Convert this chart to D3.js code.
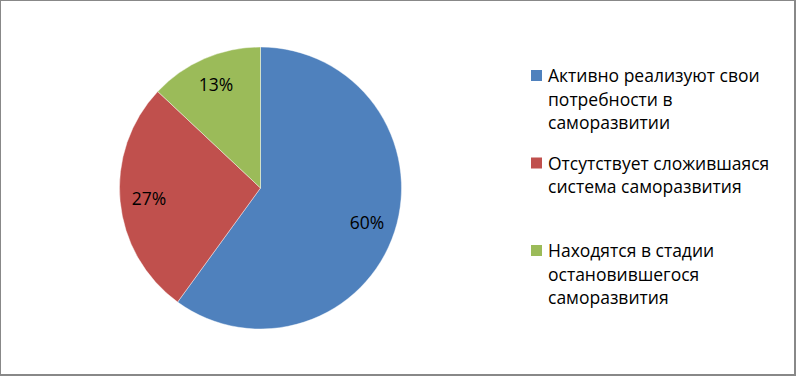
<!DOCTYPE html>
<html>
  <head>
    <meta charset="utf-8">
    <title>Pie</title>
    <script src="https://cdn.jsdelivr.net/npm/d3@7"></script>
    <style>
      body { margin: 0; background: #fff; }
      text { font-family: "Open Sans", "Liberation Sans", sans-serif; fill: #000; }
    </style>
  </head>
  <body>
    <svg width="796" height="376" id="mainsvg"></svg>
    <script>
    // данные
    const categories = [
      ['Активно реализуют свои', 'потребности в', 'саморазвитии'],
      ['Отсутствует сложившаяся', 'система саморазвития'],
      ['Находятся в стадии', 'остановившегося', 'саморазвития']
    ];
    const values = [60, 27, 13];
    const colors = ['#4F81BD', '#C0504D', '#9BBB59'];

    let svg = d3.select('#mainsvg');
    const width = +svg.attr('width'), height = +svg.attr('height');

    // рамка
    svg.append('rect')
      .attr('x', 0.5).attr('y', 0.5)
      .attr('width', width - 2).attr('height', height - 2)
      .attr('fill', '#fff')
      .attr('stroke', '#888').attr('stroke-width', 1);
    svg.append('line').attr('x1', width - 1).attr('x2', width - 1).attr('y1', 0).attr('y2', height)
      .attr('stroke', '#888').attr('stroke-width', 2);
    svg.append('line').attr('x1', 0).attr('x2', width).attr('y1', height - 1).attr('y2', height - 1)
      .attr('stroke', '#888').attr('stroke-width', 2);

    const cx = 260.5, cy = 188, r = 141;
    const pie = d3.pie().sort(null).value(d => d);
    const arcs = pie(values);
    const arc = d3.arc().innerRadius(0).outerRadius(r);
    const labelArc = d3.arc().innerRadius(112).outerRadius(112);

    const g = svg.append('g').attr('transform', `translate(${cx},${cy})`);
    g.selectAll('path').data(arcs).join('path')
      .attr('d', arc)
      .attr('fill', (d, i) => colors[i])
      .attr('stroke', '#fff')
      .attr('stroke-opacity', 0.6)
      .attr('stroke-width', 0.7);

    const total = d3.sum(values);
    g.selectAll('text.lbl').data(arcs).join('text')
      .attr('class', 'lbl')
      .attr('x', d => labelArc.centroid(d)[0])
      .attr('y', d => labelArc.centroid(d)[1] + 6)
      .attr('text-anchor', 'middle')
      .attr('font-size', 17.5)
      .text(d => Math.round(d.value / total * 100) + '%');

    // легенда
    const legend = svg.append('g');
    const item = legend.selectAll('g').data(categories).join('g')
      .attr('transform', (d, i) => `translate(531,${70 + i * 87.5})`);
    item.append('rect')
      .attr('width', 11).attr('height', 11)
      .attr('fill', (d, i) => colors[i]);
    item.append('text')
      .attr('font-size', 17.5)
      .selectAll('tspan').data(d => d).join('tspan')
      .attr('x', 17)
      .attr('y', (d, j) => 12 + j * 23.5)
      .text(d => d);
    </script>
  </body>
</html>
